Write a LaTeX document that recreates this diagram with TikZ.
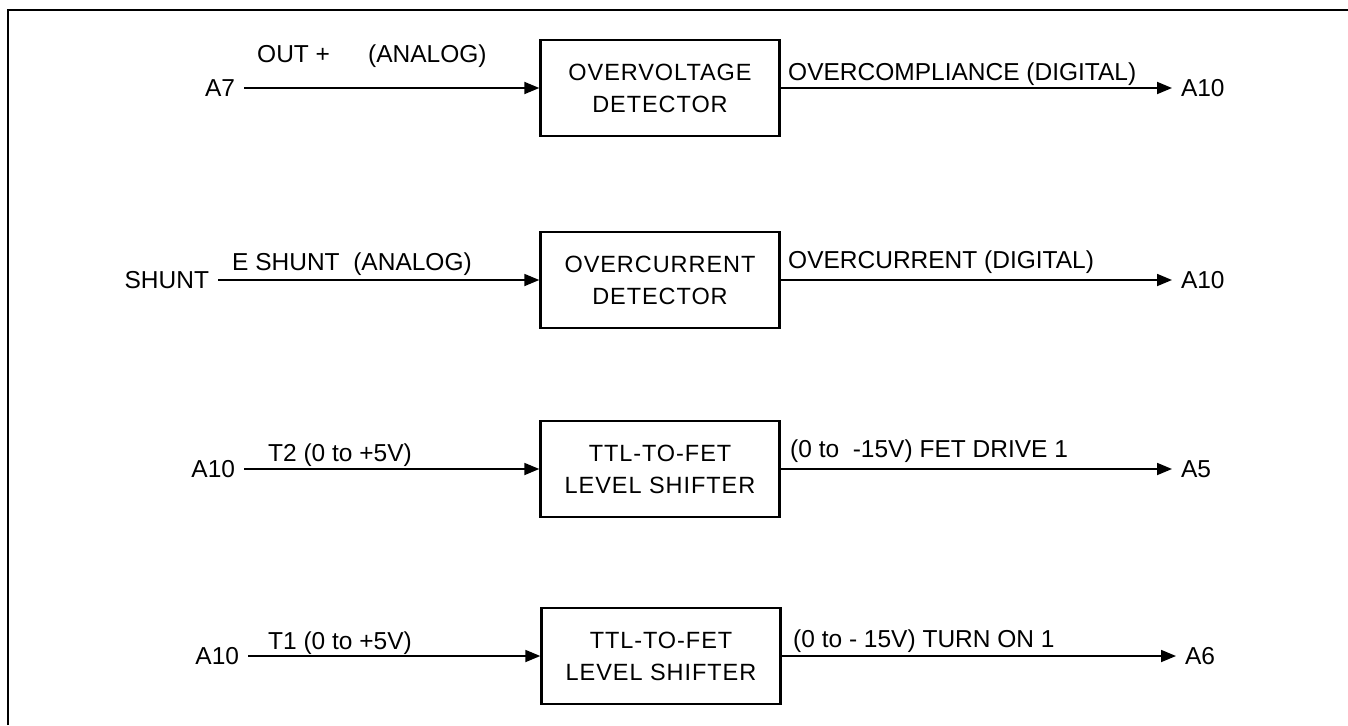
\documentclass[tikz,border=0pt]{standalone}
\usepackage{fontspec}
\setmainfont{Liberation Sans}
\newfontfamily\blockfont[LetterSpace=4]{Liberation Sans}
\usetikzlibrary{arrows.meta}

\begin{document}
\begin{tikzpicture}[x=1pt,y=-1pt,
  block/.style={draw, line width=2.4pt, minimum width=239pt, minimum height=96pt,
    align=center, font=\blockfont\fontsize{23.5}{32}\selectfont},
  term/.style={font=\fontsize{24.5}{28}\selectfont, inner sep=0pt, outer xsep=9pt},
  sig/.style={line width=1.8pt, -{Triangle[length=15pt,width=12pt]}},
  lbl/.style={font=\fontsize{24.5}{28}\selectfont, inner sep=0pt, anchor=base west}]
  \useasboundingbox (0,0) rectangle (1348,725);
  \draw[line width=2pt] (8,725) -- (8,10) -- (1348,10);

  % overvoltage
  \node[block] (ovd) at (660,88) {OVERVOLTAGE\\DETECTOR};
  \node[term,anchor=east] (a7) at (244,88) {A7};
  \node[term,anchor=west] (a10a) at (1172,88) {A10};
  \draw[sig] (a7) -- (ovd);
  \draw[sig] (ovd) -- (a10a);
  \node[lbl] (outp) at (257,63) {OUT +};
  \node[lbl] (ana1) at (368,63) {(ANALOG)};
  \node[lbl] (ovc) at (788,80) {OVERCOMPLIANCE (DIGITAL)};

  % overcurrent
  \node[block] (ocd) at (660,280) {OVERCURRENT\\DETECTOR};
  \node[term,anchor=east] (shunt) at (218,280) {SHUNT};
  \node[term,anchor=west] (a10b) at (1172,280) {A10};
  \draw[sig] (shunt) -- (ocd);
  \draw[sig] (ocd) -- (a10b);
  \node[lbl] (esh) at (232,270) {E SHUNT\ \ (ANALOG)};
  \node[lbl] (occ) at (788,268) {OVERCURRENT (DIGITAL)};

  % level shifter, fet drive
  \node[block] (ls1) at (660,469) {TTL-TO-FET\\LEVEL SHIFTER};
  \node[term,anchor=east] (a10c) at (244,469) {A10};
  \node[term,anchor=west] (a5) at (1172,469) {A5};
  \draw[sig] (a10c) -- (ls1);
  \draw[sig] (ls1) -- (a5);
  \node[lbl] (t2) at (268,461) {T2 (0 to +5V)};
  \node[lbl] (drv) at (790,457) {(0 to\ \ -15V) FET DRIVE 1};

  % level shifter, turn on
  \node[block] (ls2) at (661,656) {TTL-TO-FET\\LEVEL SHIFTER};
  \node[term,anchor=east] (a10d) at (248,656) {A10};
  \node[term,anchor=west] (a6) at (1176,656) {A6};
  \draw[sig] (a10d) -- (ls2);
  \draw[sig] (ls2) -- (a6);
  \node[lbl] (t1) at (268,649) {T1 (0 to +5V)};
  \node[lbl] (ton) at (793,647) {(0 to - 15V) TURN ON 1};
\end{tikzpicture}
\end{document}
